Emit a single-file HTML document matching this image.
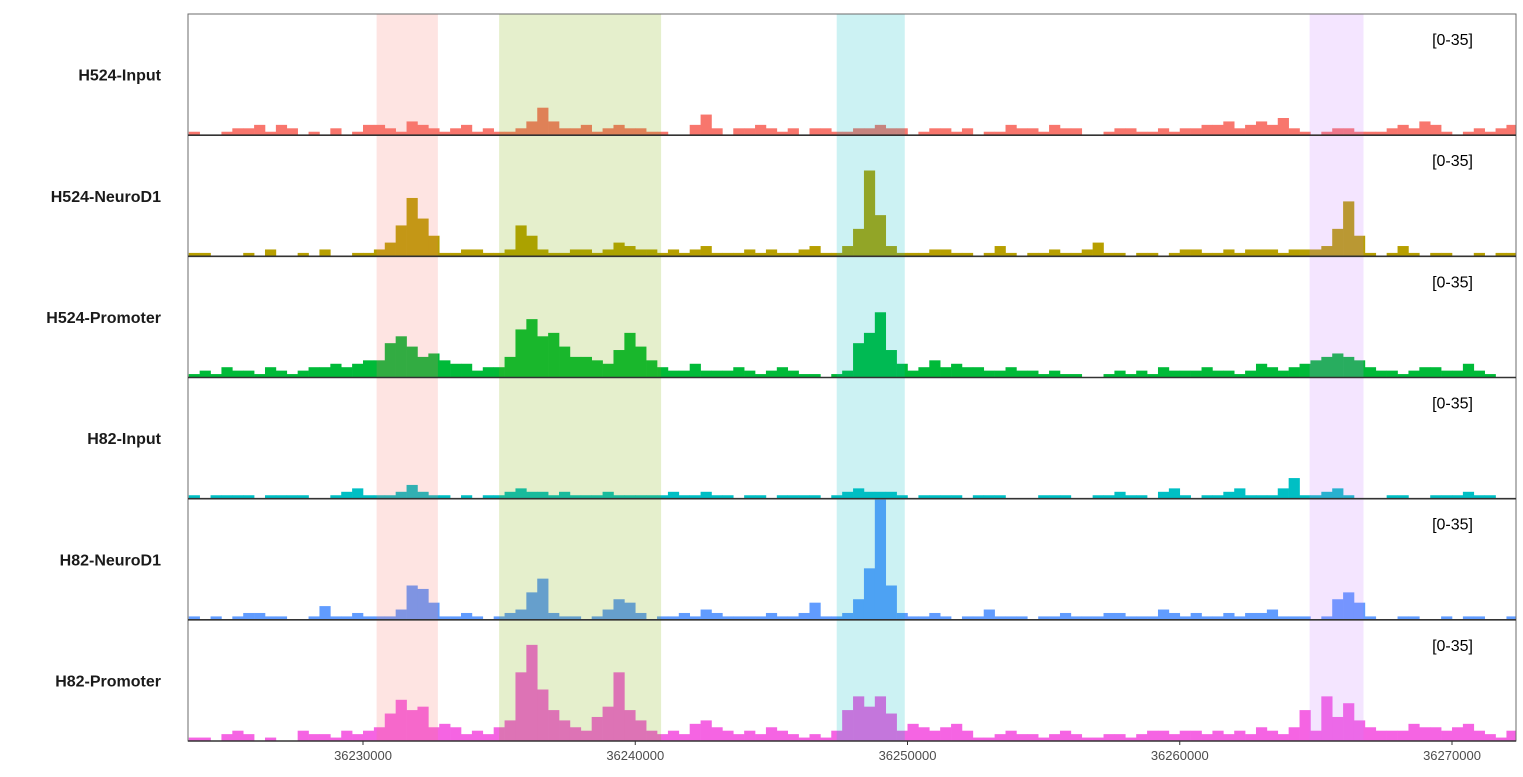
<!DOCTYPE html>
<html><head><meta charset="utf-8"><style>
body{margin:0;background:#fff;font-family:"Liberation Sans",sans-serif}
svg{display:block}
</style></head><body>
<svg id="chart" width="1523" height="777" xmlns="http://www.w3.org/2000/svg"></svg>
<script>
const trackNames=["H524-Input","H524-NeuroD1","H524-Promoter","H82-Input","H82-NeuroD1","H82-Promoter"];
const trackColors=["#F8766D","#B79F00","#00BA38","#00BFC4","#619CFF","#F564E3"];
const binStart=36223600, binSize=400;
const t1=[1,0,0,1,2,2,3,1,3,2,0,1,0,2,0,1,3,3,2,1,4,3,2,1,2,3,1,2,1,1,2,4,8,4,2,2,3,1,2,3,2,2,1,1,0,0,3,6,2,0,2,2,3,2,1,2,0,2,2,1,1,2,2,3,2,2,0,1,2,2,1,2,0,1,1,3,2,2,1,3,2,2,0,0,1,2,2,1,1,2,1,2,2,3,3,4,2,3,4,3,5,2,1,0,1,2,2,1,1,1,2,3,2,4,3,1,0,1,2,1,2,3];
const t2=[1,1,0,0,0,1,0,2,0,0,1,0,2,0,0,1,1, 2,4,9,17,11,6,1, 1,2,2,1, 1,2,9,6,2,1,1,2,2,1,2,4,3,2,2,1, 2,1,2,3,1,1,1,2,1,2,1,1,2,3,1, 1,3,8,25,12,3,1,1, 1,2,2,1,1,0,1,3,1,0,1,1,2,1,1,2,4,1,1,0,1,1,0,1,2,2,1,1,2,1,2,2,2,1,2,2, 2,3,8,16,6,1,0, 1,3,1,0,1,1,0,0,1,0,1,1];
const t3=[1,2,1,3,2,2,1,3,2,1,2,3,3,4,3,4,5, 5,10,12,9,6,7,5, 4,4,2,3, 3,6,14,17,12,13,9,6,6,5,4,8,13,9,5,3, 2,2,4,2,2,2,3,2,1,2,3,2,1,1,0, 1,2,10,13,19,8,4,2, 3,5,3,4,3,3,2,2,3,2,2,1,2,1,1,0,0,1,2,1,2,1,3,2,2,2,3,2,2,1,2,4,3,2,3,4, 5,6,7,6,5,3,2, 2,1,2,3,3,2,2,4,2,1,0,0];
const t4=[1,0,1,1,1,1,0,1,1,1,1,0,0,1,2,3,1, 1,1,2,4,2,1,1, 0,1,0,1, 1,2,3,2,2,1,2,1,1,1,2,1,1,1,1,1, 2,1,1,2,1,1,0,1,1,0,1,1,1,1,0, 1,2,3,2,2,2,1,0, 1,1,1,1,0,1,1,1,0,0,0,1,1,1,0,0,1,1,2,1,1,0,2,3,1,0,1,1,2,3,1,1,1,3,6,1, 1,2,3,1,0,0,0, 1,1,0,0,1,1,1,2,1,1,0,0];
const t5=[1,0,1,0,1,2,2,1,1,0,0,1,4,1,1,2,1, 1,1,3,10,9,5,1, 1,2,1,0, 1,2,3,8,12,2,1,1,0,1,3,6,5,2,0,1, 1,2,1,3,2,1,1,1,1,2,1,1,2,5,1, 1,2,6,15,35,10,2,1, 1,2,1,0,1,1,3,1,1,1,0,1,1,2,1,1,1,2,2,1,1,1,3,2,1,2,1,1,2,1,2,2,3,1,1,1, 0,1,6,8,5,1,0, 0,1,1,0,0,1,0,1,1,0,0,1];
const t6=[1,1,0,2,3,2,0,1,0,0,3,2,2,1,3,2,3, 4,8,12,9,10,4,5, 4,2,3,2, 4,6,20,28,15,9,6,4,3,7,10,20,9,6,3,2, 3,2,5,6,4,3,2,3,2,4,3,2,1,2,1, 3,9,13,10,13,8,3,5, 4,3,4,5,3,1,1,2,3,2,2,1,2,3,2,1,1,2,2,1,2,3,3,2,3,3,2,3,2,3,2,4,3,2,4,9, 3,13,7,11,6,4,3, 3,3,5,4,4,3,4,5,3,2,1,3];
const tracks=[t1,t2,t3,t4,t5,t6];
const highlightStarts=[36230500,36235000,36247400,36264770];
const highlightEnds=[36232750,36240950,36249900,36266750];
const highlightColors=["#F8766D","#7CAE00","#00BFC4","#C77CFF"];
const tickValues=[36230000,36240000,36250000,36260000,36270000];
const yMax=35;

const svg=document.getElementById('chart');
const NS="http://www.w3.org/2000/svg";
const L=188,R=1516,TOP=14,BOT=741;
const x0=36223572, pxPerBp=27.225/1000;
function X(v){return L+(v-x0)*pxPerBp;}
const trackH=(BOT-TOP)/6;
function base(i){return TOP+trackH*(i+1);}
function Y(i,v){return base(i)-Math.min(v,yMax)/yMax*(trackH-1);}
function mk(tag,attrs,parent){const e=document.createElementNS(NS,tag);for(const k in attrs)e.setAttribute(k,attrs[k]);(parent||svg).appendChild(e);return e;}

const clip=mk('clipPath',{id:'pc'});mk('rect',{x:L,y:TOP,width:R-L,height:BOT-TOP},clip);
const g=mk('g',{'clip-path':'url(#pc)'});

tracks.forEach((arr,i)=>{
  const tg=mk('g',{},g);
  
  
  arr.forEach((v,j)=>{
    if(v<=0)return;
    const xa=X(binStart+j*binSize), xb=X(binStart+(j+1)*binSize);
    const r=mk('rect',{x:xa,y:Y(i,v),width:xb-xa+0.3,height:base(i)-Y(i,v),fill:trackColors[i]},tg);
    
    
  });
});
highlightStarts.forEach((s,k)=>{
  const r=mk('rect',{x:X(s),y:TOP,width:X(highlightEnds[k])-X(s),height:BOT-TOP,fill:highlightColors[k],'fill-opacity':0.2});
  
  
});
const bd=mk('rect',{x:L,y:TOP,width:R-L,height:BOT-TOP,fill:'none',stroke:'#6b6b6b','stroke-width':1});


for(let i=0;i<6;i++){
  const ln=mk('line',{x1:L,x2:R,y1:base(i),y2:base(i),stroke:'#333','stroke-width':1.6});
  
  
  const lab=mk('text',{x:161,y:(base(i)-trackH/2)+6,'text-anchor':'end','font-size':16,'font-weight':'bold',fill:'#1a1a1a'});
  lab.textContent=trackNames[i];
  
  
  const rg=mk('text',{x:1473,y:base(i)-trackH+31,'text-anchor':'end','font-size':16,fill:'#000'});
  rg.textContent='[0-35]';
  
  
}
tickValues.forEach(t=>{
  const tk=mk('line',{x1:X(t),x2:X(t),y1:BOT,y2:BOT+4,stroke:'#333','stroke-width':1});
  
  
  const tl=mk('text',{x:X(t),y:BOT+19,'text-anchor':'middle','font-size':13,fill:'#4d4d4d'});
  tl.textContent=String(t);
  
  
});
</script>
</body></html>
